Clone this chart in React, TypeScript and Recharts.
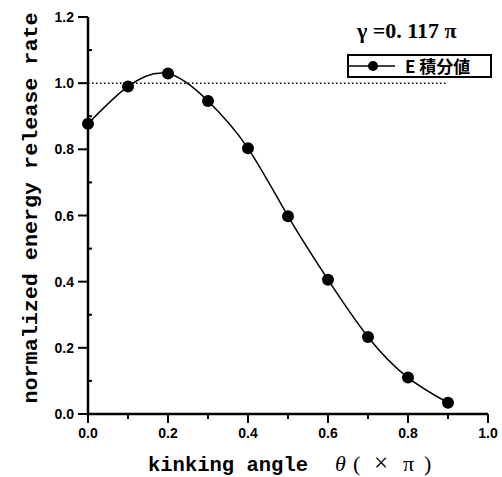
import { LineChart, Line, XAxis, YAxis, ReferenceLine, Label } from "recharts";

const angles = [0, 0.1, 0.2, 0.3, 0.4, 0.5, 0.6, 0.7, 0.8, 0.9];
const energyRate = [0.877, 0.99, 1.029, 0.946, 0.803, 0.598, 0.406, 0.233, 0.11, 0.034];
const xTicks = [0, 0.1, 0.2, 0.3, 0.4, 0.5, 0.6, 0.7, 0.8, 0.9, 1.0];
const yTicks = [0, 0.1, 0.2, 0.3, 0.4, 0.5, 0.6, 0.7, 0.8, 0.9, 1.0, 1.1, 1.2];
const seriesName = "E 積分値";
const gammaLabel = "γ =0. 117 π";

const data = angles.map((a, i) => ({ angle: a, rate: energyRate[i] }));

const isMajor = (v: number) => Math.round(v * 10) % 2 === 0;
const tickFont = "'Liberation Sans', Arial, sans-serif";
const monoFont = "'Liberation Mono', 'DejaVu Sans Mono', monospace";
const serifFont = "'Liberation Serif', 'DejaVu Serif', serif";

function XTick(props: any) {
  const { x, y, payload } = props;
  const major = isMajor(payload.value);
  return (
    <g>
      <line x1={x} x2={x} y1={y} y2={y + (major ? 9 : 5)} stroke="#000" strokeWidth={2} />
      {major && (
        <text x={x} y={y + 24} textAnchor="middle" fontFamily={tickFont} fontWeight="bold" fontSize={14} fill="#000">
          {payload.value.toFixed(1)}
        </text>
      )}
    </g>
  );
}

function YTick(props: any) {
  const { x, y, payload } = props;
  const major = isMajor(payload.value);
  return (
    <g>
      {major ? (
        <line x1={x - 10} x2={x} y1={y} y2={y} stroke="#000" strokeWidth={2} />
      ) : (
        <line x1={x} x2={x + 4} y1={y} y2={y} stroke="#000" strokeWidth={2} />
      )}
      {major && (
        <text x={x - 14} y={y + 5} textAnchor="end" fontFamily={tickFont} fontWeight="bold" fontSize={14} fill="#000">
          {payload.value.toFixed(1)}
        </text>
      )}
    </g>
  );
}

// title and legend box drawn over the chart so they take no plot space
function LegendBox() {
  return (
    <>
      <div
        style={{
          position: "absolute",
          left: 357,
          top: 19,
          fontFamily: serifFont,
          fontWeight: "bold",
          fontSize: 22,
          lineHeight: "24px",
          whiteSpace: "pre",
          color: "#000",
        }}
      >
        {gammaLabel}
      </div>
      <div
        style={{
          position: "absolute",
          left: 347,
          top: 54,
          width: 141,
          height: 20,
          border: "2px solid #000",
          background: "#fff",
        }}
      >
        <svg width={48} height={20} style={{ position: "absolute", left: 0, top: 0 }}>
          <line x1={0} x2={46} y1={10} y2={10} stroke="#000" strokeWidth={1.5} />
          <circle cx={24} cy={10} r={5} fill="#000" />
        </svg>
        <span
          style={{
            position: "absolute",
            left: 56,
            top: 0,
            fontFamily: "'Noto Sans CJK JP', serif",
            fontWeight: "bold",
            fontSize: 17,
            lineHeight: "20px",
            whiteSpace: "pre",
            color: "#000",
          }}
        >
          {seriesName}
        </span>
      </div>
    </>
  );
}

export default function App() {
  return (
    <div style={{ position: "absolute", left: 0, top: 0, width: 502, height: 477, background: "#fff" }}>
      <LineChart width={502} height={477} data={data} margin={{ top: 17, right: 14, left: 0, bottom: 0 }}>
        <XAxis
          dataKey="angle"
          type="number"
          domain={[0, 1]}
          ticks={xTicks}
          interval={0}
          height={63}
          tickSize={0}
          tickMargin={0}
          tickLine={false}
          tick={<XTick />}
          axisLine={{ stroke: "#000", strokeWidth: 2.5 }}
        >
          <Label
            content={(p: any) => {
              const vb = p.viewBox;
              const base = vb.y + 57;
              return (
                <text y={base} fill="#000" fontWeight="bold">
                  <tspan x={148} y={base} fontFamily={monoFont} fontSize={21} textLength={160} lengthAdjust="spacingAndGlyphs">
                    kinking angle
                  </tspan>
                  <tspan x={335} y={base} fontFamily={serifFont} fontStyle="italic" fontWeight="normal" fontSize={22}>
                    θ
                  </tspan>
                  <tspan x={353} y={base} fontFamily={serifFont} fontWeight="normal" fontSize={22}>
                    (
                  </tspan>
                  <tspan x={374} y={base} fontFamily={serifFont} fontWeight="normal" fontSize={25}>
                    ×
                  </tspan>
                  <tspan x={403} y={base} fontFamily={serifFont} fontWeight="normal" fontSize={22}>
                    π
                  </tspan>
                  <tspan x={424} y={base} fontFamily={serifFont} fontWeight="normal" fontSize={22}>
                    )
                  </tspan>
                </text>
              );
            }}
          />
        </XAxis>
        <YAxis
          type="number"
          domain={[0, 1.2]}
          ticks={yTicks}
          interval={0}
          width={88}
          tickSize={0}
          tickMargin={0}
          tickLine={false}
          tick={<YTick />}
          axisLine={{ stroke: "#000", strokeWidth: 2.5 }}
        >
          <Label
            content={() => (
              <text
                x={37}
                y={208}
                transform="rotate(-90 37 208)"
                textAnchor="middle"
                fontFamily={monoFont}
                fontWeight="bold"
                fontSize={21}
                textLength={391}
                lengthAdjust="spacingAndGlyphs"
                fill="#000"
              >
                normalized energy release rate
              </text>
            )}
          />
        </YAxis>
        <ReferenceLine
          segment={[
            { x: 0, y: 1 },
            { x: 0.9, y: 1 },
          ]}
          stroke="#000"
          strokeWidth={1.5}
          strokeDasharray="1.5 2.5"
        />
        <Line
          dataKey="rate"
          type="natural"
          stroke="#000"
          strokeWidth={1.5}
          dot={{ r: 6, fill: "#000", stroke: "#000", strokeWidth: 0 }}
          isAnimationActive={false}
        />
      </LineChart>
      <LegendBox />
    </div>
  );
}
